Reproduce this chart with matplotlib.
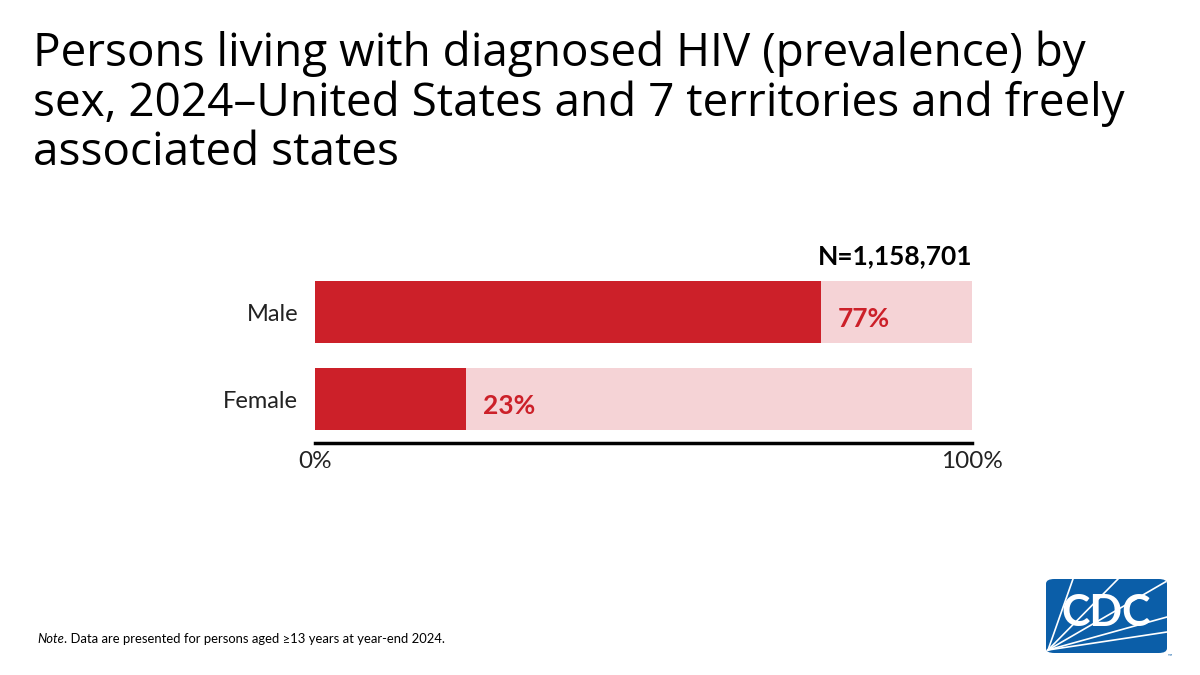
import matplotlib
matplotlib.use("Agg")
import matplotlib.pyplot as plt
from matplotlib.patches import FancyBboxPatch
from matplotlib.lines import Line2D

categories = ["Male", "Female"]
values = [77, 23]
total = [100, 100]
value_labels = ["77%", "23%"]
n_label = "N=1,158,701"
tick_labels = ["0%", "100%"]

RED = "#CC2029"
PINK = "#F5D3D6"
FONT = ["Lato", "DejaVu Sans"]
plt.rcParams["font.family"] = FONT

W, H = 1200, 675
fig = plt.figure(figsize=(12, 6.75), dpi=100)
fig.patch.set_facecolor("white")

fig.text(0.0275, 0.955, "Persons living with diagnosed HIV (prevalence) by\nsex, 2024\u2013United States and 7 territories and freely\nassociated states",
         fontsize=33, va="top", ha="left", color="black", linespacing=1.09,
         family=["Open Sans", "DejaVu Sans"])

ax = fig.add_axes([315 / W, 1 - 443 / H, (972 - 315) / W, 168 / H])
ypos = [1, 0]
h = 0.713
ax.barh(ypos, total, height=h, color=PINK, edgecolor="none")
ax.barh(ypos, values, height=h, color=RED, edgecolor="none")
for y, v, lab in zip(ypos, values, value_labels):
    ax.text(v + 2.6, y - 0.08, lab, color=RED, fontsize=19, fontweight="bold",
            va="center", ha="left")
ax.set_xlim(0, 100)
ax.set_ylim(-0.506, 1.43)
ax.set_yticks(ypos)
ax.set_yticklabels(categories, fontsize=17, color="#222222")
ax.tick_params(axis="y", length=0, pad=12)
ax.set_xticks([0, 100])
ax.set_xticklabels(tick_labels, fontsize=17.5, color="#222222")
ax.tick_params(axis="x", length=0, pad=6)
for s in ["top", "right", "left"]:
    ax.spines[s].set_visible(False)
ax.spines["bottom"].set_linewidth(2.5)
ax.spines["bottom"].set_color("black")
ax.text(100, 1.43 + 0.08, n_label, fontsize=19, fontweight="bold", ha="right", va="bottom")

# Note
renderer = fig.canvas.get_renderer()
ny = 1 - 639 / H
t1 = fig.text(37 / W, ny, "Note", fontsize=9.4, style="italic", va="center", ha="left")
bb = t1.get_window_extent(renderer=renderer)
fig.text(bb.x1 / W + 0.0005, ny, ". Data are presented for persons aged \u226513 years at year-end 2024.",
         fontsize=9.4, va="center", ha="left")

# CDC logo
lx0, ly0, lw, lh = 1046 / W, 1 - 653 / H, 121 / W, 74 / H
logo = FancyBboxPatch((lx0, ly0), lw, lh, boxstyle="round,pad=0,rounding_size=0.007",
                      transform=fig.transFigure, facecolor="#0B5EA8", edgecolor="none")
fig.patches.append(logo)
origin = (1048 / W, 1 - 650 / H)
for ex, ey in [(1073, 579), (1118, 579), (1167, 581), (1167, 617), (1167, 632)]:
    ln = Line2D([origin[0], ex / W], [origin[1], 1 - ey / H], transform=fig.transFigure,
                color="white", linewidth=1.2)
    ln.set_clip_path(logo)
    fig.lines.append(ln)
fig.text(1106 / W, 1 - 613 / H, "CDC", color="white", fontsize=31, fontweight="bold",
         ha="center", va="center")
fig.text(1170 / W, 1 - 656 / H, "\u2122", color="#0B5EA8", fontsize=4, ha="center", va="center")

fig.savefig("out.png", dpi=100, facecolor="white")
